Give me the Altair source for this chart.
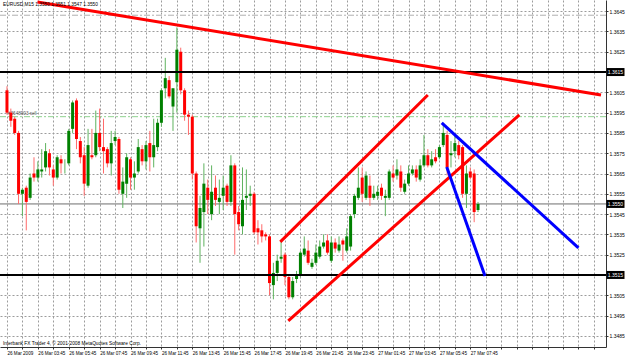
import altair as alt
import pandas as pd

# ---- OHLC data (EURUSD M15) ----
opens = [1.3606, 1.3595, 1.3592, 1.3585, 1.3555, 1.3558, 1.3553, 1.3565, 1.3563, 1.3566,
         1.3568, 1.3575, 1.3567, 1.3563, 1.3572, 1.3571, 1.3570, 1.3587, 1.3601, 1.3581,
         1.3574, 1.3559, 1.3574, 1.3574, 1.3585, 1.3578, 1.3577, 1.3570, 1.3581, 1.3582,
         1.3555, 1.3560, 1.3572, 1.3563, 1.3566, 1.3577, 1.3571, 1.3580, 1.3573, 1.3578,
         1.3590, 1.3607, 1.3611, 1.3598, 1.3610, 1.3625, 1.3606, 1.3594, 1.3593, 1.3565,
         1.3538, 1.3546, 1.3558, 1.3545, 1.3558, 1.3551, 1.3554, 1.3559, 1.3551, 1.3569,
         1.3546, 1.3539, 1.3553, 1.3554, 1.3555, 1.3538, 1.3537, 1.3535, 1.3534, 1.3510,
         1.3516, 1.3523, 1.3525, 1.3514, 1.3504, 1.3513, 1.3515, 1.3525, 1.3527, 1.3519,
         1.3521, 1.3524, 1.3529, 1.3532, 1.3522, 1.3531, 1.3527, 1.3532, 1.3527, 1.3529,
         1.3545, 1.3553, 1.3563, 1.3553, 1.3559, 1.3553, 1.3554, 1.3558, 1.3553, 1.3553,
         1.3565, 1.3564, 1.3566, 1.3556, 1.3560, 1.3565, 1.3567, 1.3562, 1.3569, 1.3574,
         1.3569, 1.3573, 1.3573, 1.3579, 1.3584, 1.3574, 1.3576, 1.3579, 1.3578, 1.3555,
         1.3566, 1.3565, 1.3547]
highs = [1.3608, 1.3597, 1.3593, 1.3586, 1.3558, 1.3559, 1.3565, 1.3573, 1.3571, 1.3577,
         1.3580, 1.3577, 1.3569, 1.3574, 1.3574, 1.3572, 1.3587, 1.3601, 1.3602, 1.3583,
         1.3578, 1.3587, 1.3587, 1.3596, 1.3597, 1.3592, 1.3578, 1.3586, 1.3586, 1.3583,
         1.3568, 1.3575, 1.3573, 1.3571, 1.3582, 1.3579, 1.3581, 1.3586, 1.3592, 1.3592,
         1.3607, 1.3622, 1.3613, 1.3607, 1.3637, 1.3627, 1.3607, 1.3596, 1.3594, 1.3566,
         1.3554, 1.3570, 1.3562, 1.3569, 1.3564, 1.3562, 1.3564, 1.3560, 1.3574, 1.3570,
         1.3549, 1.3568, 1.3567, 1.3559, 1.3556, 1.3542, 1.3540, 1.3536, 1.3535, 1.3521,
         1.3525, 1.3532, 1.3526, 1.3515, 1.3514, 1.3517, 1.3527, 1.3534, 1.3532, 1.3523,
         1.3530, 1.3532, 1.3535, 1.3535, 1.3534, 1.3533, 1.3534, 1.3533, 1.3538, 1.3545,
         1.3555, 1.3568, 1.3568, 1.3566, 1.3564, 1.3559, 1.3559, 1.3560, 1.3557, 1.3567,
         1.3569, 1.3572, 1.3569, 1.3562, 1.3569, 1.3569, 1.3569, 1.3572, 1.3584, 1.3577,
         1.3576, 1.3577, 1.3579, 1.3590, 1.3586, 1.3581, 1.3584, 1.3581, 1.3579, 1.3569,
         1.3568, 1.3567, 1.3551]
lows = [1.3594, 1.3588, 1.3584, 1.3550, 1.3544, 1.3537, 1.3552, 1.3561, 1.3561, 1.3563,
        1.3566, 1.3564, 1.3559, 1.3562, 1.3565, 1.3565, 1.3569, 1.3585, 1.3577, 1.3570,
        1.3554, 1.3558, 1.3572, 1.3573, 1.3576, 1.3565, 1.3568, 1.3564, 1.3579, 1.3555,
        1.3548, 1.3553, 1.3557, 1.3557, 1.3565, 1.3569, 1.3567, 1.3566, 1.3568, 1.3576,
        1.3588, 1.3602, 1.3602, 1.3586, 1.3595, 1.3604, 1.3591, 1.3584, 1.3562, 1.3531,
        1.3521, 1.3529, 1.3545, 1.3542, 1.3549, 1.3545, 1.3547, 1.3549, 1.3549, 1.3525,
        1.3537, 1.3535, 1.3547, 1.3549, 1.3535, 1.3530, 1.3531, 1.3532, 1.3505, 1.3503,
        1.3512, 1.3521, 1.3510, 1.3503, 1.3503, 1.3511, 1.3514, 1.3524, 1.3520, 1.3518,
        1.3520, 1.3523, 1.3528, 1.3525, 1.3521, 1.3526, 1.3526, 1.3522, 1.3526, 1.3527,
        1.3543, 1.3552, 1.3551, 1.3552, 1.3549, 1.3552, 1.3552, 1.3552, 1.3544, 1.3552,
        1.3561, 1.3562, 1.3556, 1.3555, 1.3559, 1.3564, 1.3561, 1.3561, 1.3568, 1.3568,
        1.3568, 1.3570, 1.3572, 1.3578, 1.3564, 1.3568, 1.3573, 1.3572, 1.3553, 1.3548,
        1.3562, 1.3541, 1.3546]
closes = [1.3595, 1.3591, 1.3585, 1.3555, 1.3557, 1.3551, 1.3563, 1.3563, 1.3567, 1.3567,
          1.3576, 1.3568, 1.3563, 1.3573, 1.3570, 1.3571, 1.3586, 1.3600, 1.3582, 1.3573,
          1.3560, 1.3579, 1.3573, 1.3585, 1.3578, 1.3576, 1.3570, 1.3580, 1.3583, 1.3557,
          1.3561, 1.3573, 1.3563, 1.3565, 1.3578, 1.3571, 1.3579, 1.3573, 1.3579, 1.3590,
          1.3606, 1.3612, 1.3603, 1.3607, 1.3626, 1.3606, 1.3594, 1.3593, 1.3565, 1.3539,
          1.3548, 1.3560, 1.3552, 1.3556, 1.3552, 1.3553, 1.3558, 1.3551, 1.3569, 1.3545,
          1.3540, 1.3552, 1.3554, 1.3555, 1.3536, 1.3536, 1.3534, 1.3534, 1.3511, 1.3516,
          1.3522, 1.3524, 1.3514, 1.3504, 1.3512, 1.3515, 1.3526, 1.3528, 1.3521, 1.3521,
          1.3526, 1.3529, 1.3531, 1.3526, 1.3531, 1.3528, 1.3530, 1.3530, 1.3534, 1.3544,
          1.3554, 1.3558, 1.3555, 1.3564, 1.3553, 1.3555, 1.3556, 1.3554, 1.3554, 1.3566,
          1.3563, 1.3567, 1.3558, 1.3560, 1.3565, 1.3567, 1.3563, 1.3569, 1.3574, 1.3569,
          1.3572, 1.3571, 1.3578, 1.3585, 1.3568, 1.3575, 1.3580, 1.3574, 1.3555, 1.3565,
          1.3563, 1.3546, 1.3550]

time_labels = ["26 Mar 2009", "26 Mar 03:45", "26 Mar 05:45", "26 Mar 07:45", "26 Mar 09:45",
               "26 Mar 11:45", "26 Mar 13:45", "26 Mar 15:45", "26 Mar 17:45", "26 Mar 19:45",
               "26 Mar 21:45", "26 Mar 23:45", "27 Mar 01:45", "27 Mar 03:45", "27 Mar 05:45",
               "27 Mar 07:45"]
y_ticks = [1.3485, 1.3495, 1.3505, 1.3515, 1.3525, 1.3535, 1.3545, 1.3555, 1.3565,
           1.3575, 1.3585, 1.3595, 1.3605, 1.3615, 1.3625, 1.3635, 1.3645]
x_ticks = list(range(0, 153, 4))

# trend lines: (name, bar start, price start, bar end, price end, colour)
tl_names = ["top", "chan_up", "chan_lo", "blue_long", "blue_short"]
tl_i0 = [7.9, 70.8, 72.85, 112.6, 113.9]
tl_p0 = [1.36495, 1.35313, 1.34924, 1.35899, 1.35682]
tl_i1 = [153.85, 109.0, 132.7, 148.0, 123.8]
tl_p1 = [1.36037, 1.36037, 1.35939, 1.35283, 1.35145]
tl_col = ["#ff0000", "#ff0000", "#ff0000", "#0000ff", "#0000ff"]

black_levels = [1.3615, 1.3515]
current_price = 1.3550
order_level = 1.3593
order_label = "#3648903 sell"
stop_level = 1.3643
header = "EURUSD,M15  1.3550 1.3551 1.3547 1.3550"
footer = "Interbank FX Trader 4, \u00a9 2001-2008 MetaQuotes Software Corp."

# ---- build chart ----
df = pd.DataFrame({"i": list(range(len(opens))), "open": opens, "high": highs,
                   "low": lows, "close": closes})

rows = []
for n, a, b, c, d, col in zip(tl_names, tl_i0, tl_p0, tl_i1, tl_p1, tl_col):
    rows.append({"id": n, "i": a, "p": b, "col": col})
    rows.append({"id": n, "i": c, "p": d, "col": col})
tl_df = pd.DataFrame(rows)

xscale = alt.Scale(domain=[-0.51, 153.85], nice=False, zero=False)
yscale = alt.Scale(domain=[1.34795, 1.36505], nice=False, zero=False)

lab_js = "[" + ",".join("'" + t + "'" for t in time_labels) + "]"
xaxis = alt.Axis(values=x_ticks, grid=True, gridDash=[2, 2], gridColor="#9c9c9c",
                 gridWidth=1,
                 labelExpr="(datum.value % 8 == 0 && datum.value <= 120) ? " + lab_js
                           + "[datum.value / 8] : ''",
                 labelAlign="left", labelBaseline="top", labelFontSize=4.6,
                 labelFont="Liberation Sans", labelPadding=1, tickSize=2,
                 domainColor="#333333", tickColor="#333333", labelColor="black",
                 labelOverlap=False, labelBound=False, labelFlush=False, title=None)

hidden = ",".join("'%.4f'" % v for v in black_levels)
yaxis = alt.Axis(values=y_ticks, orient="right", grid=True,
                 labelExpr="indexof([" + hidden + "], format(datum.value, '.4f')) >= 0"
                           " ? '' : format(datum.value, '.4f')",
                 gridDash=[2, 2], gridColor="#9c9c9c", gridWidth=1,
                 labelFontSize=5, labelFont="Liberation Sans", labelPadding=1,
                 tickSize=2, domainColor="#333333", tickColor="#333333",
                 labelColor="black", labelOverlap=False, labelBound=False,
                 labelFlush=False, title=None)


def X(f):
    return alt.X(f, type="quantitative", scale=xscale, axis=xaxis)


def Y(f):
    return alt.Y(f, type="quantitative", scale=yscale, axis=yaxis)


up = "datum.close >= datum.open"

stop_line = alt.Chart(pd.DataFrame({"p": [stop_level]})).mark_rule(
    color="#b0b0b0", strokeWidth=1, strokeDash=[6, 2, 2, 2]).encode(y=Y("p"))
order_line = alt.Chart(pd.DataFrame({"p": [order_level], "t": [order_label]})).mark_rule(
    color="#8fd18f", strokeWidth=1, strokeDash=[6, 2, 2, 2]).encode(y=Y("p"))
order_text = alt.Chart(pd.DataFrame({"p": [order_level], "t": [order_label]})).mark_text(
    align="left", baseline="bottom", dy=-1, fontSize=4.6, font="Liberation Sans",
    color="#555555").encode(x=alt.value(8), y=Y("p"), text="t:N")
cur_line = alt.Chart(pd.DataFrame({"p": [current_price]})).mark_rule(
    color="#6e6e6e", strokeWidth=1).encode(y=Y("p"))

wicks = alt.Chart(df).mark_rule(strokeWidth=1).encode(
    x=X("i"), y=Y("low"), y2="high:Q",
    color=alt.condition(up, alt.value("#5fb35f"), alt.value("#ff6a6a")))
bodies = alt.Chart(df).mark_bar(size=3).encode(
    x=X("i"), y=Y("open"), y2="close:Q",
    color=alt.condition(up, alt.value("#008000"), alt.value("#ff0000")))

black_lines = alt.Chart(pd.DataFrame({"p": black_levels})).mark_rule(
    color="black", strokeWidth=2).encode(y=Y("p"))

trend = alt.Chart(tl_df).mark_line(strokeWidth=3).encode(
    x=X("i"), y=Y("p"), detail="id:N", color=alt.Color("col:N", scale=None))

box_df = pd.DataFrame({"p": black_levels + [current_price],
                       "t": ["%.4f" % v for v in black_levels + [current_price]]})
boxes = alt.Chart(box_df).mark_tick(orient="horizontal", size=18, thickness=8,
                                    color="black", opacity=1).encode(
    x=alt.value(615.5), y=Y("p"))
box_text = alt.Chart(box_df).mark_text(color="white", fontSize=5, font="Liberation Sans",
                                       align="center", baseline="middle").encode(
    x=alt.value(615.5), y=Y("p"), text="t:N")

head = alt.Chart(pd.DataFrame({"t": [header]})).mark_text(
    align="left", baseline="top", fontSize=4.8, font="Liberation Sans",
    color="black").encode(x=alt.value(3), y=alt.value(2), text="t:N")
foot = alt.Chart(pd.DataFrame({"t": [footer]})).mark_text(
    align="left", baseline="bottom", fontSize=4.8, font="Liberation Sans",
    color="black").encode(x=alt.value(3), y=alt.value(346), text="t:N")

chart = alt.layer(
    stop_line, order_line, order_text, cur_line, wicks, bodies, black_lines, trend,
    boxes, box_text, head, foot
).properties(
    width=606, height=347,
    autosize=alt.AutoSizeParams(type="none"),
    padding={"left": 0, "top": 0, "right": 19, "bottom": 8},
).configure(background="white").configure_view(strokeWidth=0)

chart.save("out.html", embed_options={"renderer": "svg", "actions": False})
